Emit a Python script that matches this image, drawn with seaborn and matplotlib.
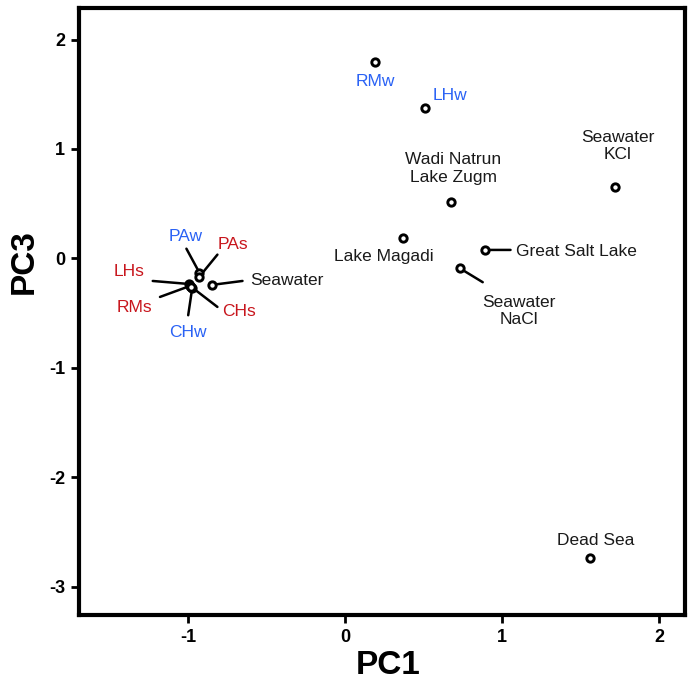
import matplotlib
matplotlib.use("Agg")
import matplotlib.pyplot as plt
import pandas as pd
import seaborn as sns

# PCA scores (PC1 vs PC3) for each sample / brine
names = ["RMw", "LHw", "Wadi Natrun\nLake Zugm", "Seawater\nKCl", "Lake Magadi",
         "Great Salt Lake", "Seawater\nNaCl", "Dead Sea",
         "PAw", "PAs", "Seawater", "LHs", "RMs", "CHw", "CHs"]
pc1 = [0.190, 0.508, 0.676, 1.717, 0.368, 0.889, 0.731, 1.559,
       -0.927, -0.927, -0.850, -0.995, -0.987, -0.973, -0.978]
pc3 = [1.797, 1.372, 0.513, 0.653, 0.184, 0.078, -0.089, -2.738,
       -0.130, -0.166, -0.242, -0.233, -0.251, -0.272, -0.260]
kind = ["water", "water", "brine", "brine", "brine", "brine", "brine", "brine",
        "water", "sediment", "brine", "sediment", "sediment", "water", "sediment"]

x_ticks = [-1, 0, 1, 2]
y_ticks = [2, 1, 0, -1, -2, -3]

colors = {"water": "#2a62f5", "sediment": "#c8161d", "brine": "#1a1a1a"}

# label placement: (text dx, text dy, ha) in pixels, optional leader end (dx, dy)
layout = {
    "RMw": ((1, -20, "center"), None),
    "LHw": ((25, 13, "center"), None),
    "Wadi Natrun\nLake Zugm": ((2, 34, "center"), None),
    "Seawater\nKCl": ((3, 41, "center"), None),
    "Lake Magadi": ((-19, -18, "center"), None),
    "Great Salt Lake": ((31, -2, "left"), (26, 0)),
    "Seawater\nNaCl": ((59, -43, "center"), (23, -14)),
    "Dead Sea": ((6, 18, "center"), None),
    "PAw": ((-14, 36, "center"), (-13, 24)),
    "PAs": ((34, 32, "center"), (18, 22)),
    "Seawater": ((39, 4, "left"), (31, 4)),
    "LHs": ((-60, 12, "center"), (-36, 3)),
    "RMs": ((-56, -22, "center"), (-30, -11)),
    "CHw": ((-4, -44, "center"), (-4, -27)),
    "CHs": ((48, -25, "center"), (26, -20)),
}

df = pd.DataFrame({"name": names, "PC1": pc1, "PC3": pc3, "kind": kind})

sns.set_theme(style="white")
plt.rcParams["font.family"] = ["Liberation Sans", "DejaVu Sans"]
plt.rcParams["axes.unicode_minus"] = False

fig = plt.figure(figsize=(6.88, 6.83), dpi=100)
ax = fig.add_axes([79 / 688, 1 - 615 / 683, 606 / 688, 607 / 683])

# leader lines first, so the circles sit on top
for _, row in df.iterrows():
    (tdx, tdy, ha), lead = layout[row["name"]]
    if lead is not None:
        ax.annotate("", xy=(row["PC1"], row["PC3"]), xytext=lead,
                    textcoords="offset pixels",
                    arrowprops=dict(arrowstyle="-", color="black", lw=1.8,
                                    shrinkA=0, shrinkB=3), zorder=2)

sns.scatterplot(data=df, x="PC1", y="PC3", marker="o", s=28,
                facecolor="white", edgecolor="black", linewidth=2.1,
                ax=ax, legend=False, zorder=3)

for _, row in df.iterrows():
    (tdx, tdy, ha), lead = layout[row["name"]]
    ax.annotate(row["name"], xy=(row["PC1"], row["PC3"]), xytext=(tdx, tdy),
                textcoords="offset pixels", ha=ha, va="center",
                multialignment="center", linespacing=1.2,
                fontsize=12.5, color=colors[row["kind"]], zorder=4)

ax.set_xlim(-1.694, 2.166)
ax.set_ylim(-3.257, 2.288)
ax.set_xticks(x_ticks)
ax.set_yticks(y_ticks)
ax.set_xticklabels([str(v) for v in x_ticks])
ax.set_yticklabels([str(v) for v in y_ticks])
ax.tick_params(bottom=True, left=True, direction="out", length=6, width=2,
               color="black", labelsize=13, labelcolor="black", pad=4)
for lbl in ax.get_xticklabels() + ax.get_yticklabels():
    lbl.set_fontweight("bold")

for sp in ax.spines.values():
    sp.set_visible(True)
    sp.set_color("black")
    sp.set_linewidth(3)

ax.set_xlabel("PC1", fontsize=24, fontweight="bold", color="black")
ax.set_ylabel("PC3", fontsize=24, fontweight="bold", color="black")
ax.xaxis.set_label_coords(0.51, -0.058)
ax.yaxis.set_label_coords(-0.064, 0.583)

fig.savefig("out.png", dpi=100, facecolor="white")
